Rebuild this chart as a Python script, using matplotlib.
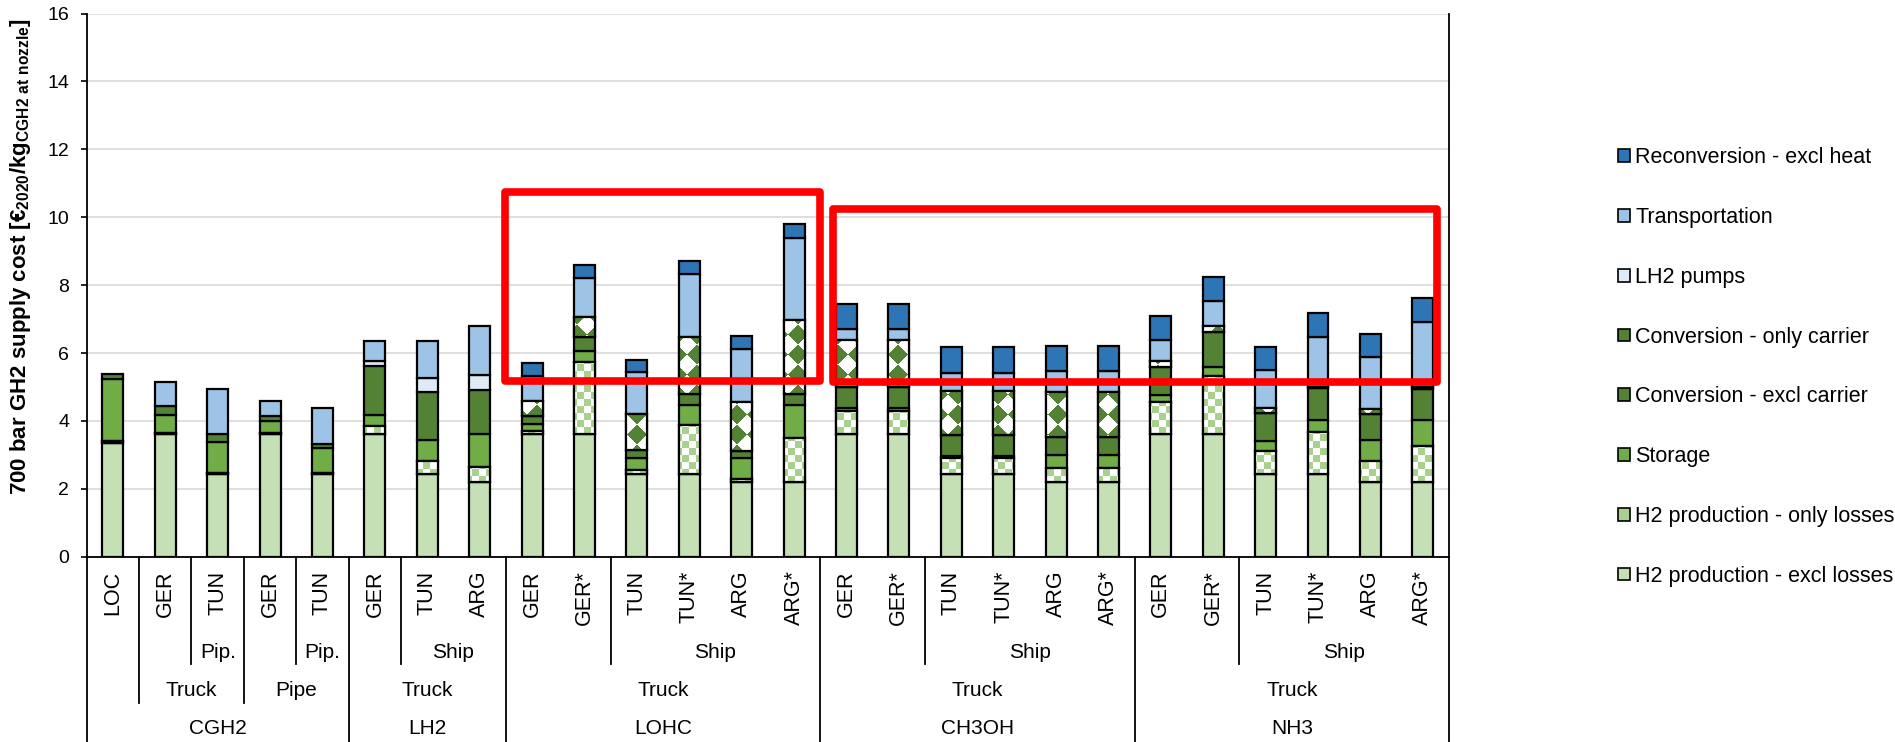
#!/usr/bin/env python

# 700 bar GH2 supply cost per carrier and route

# Some configuration
DPI   = 100
FIGW  = 18.95
FIGH  = 7.42
BAR_W = 0.4

# Import external libraries
import numpy as np
import matplotlib
matplotlib.use('Agg')
import matplotlib.pyplot as plt
from matplotlib.colors import to_rgb
from matplotlib.patches import Patch, Rectangle
from matplotlib.path import Path

plt.rcParams['font.family'] = ['Liberation Sans', 'DejaVu Sans']
plt.rcParams['mathtext.fontset'] = 'custom'
plt.rcParams['mathtext.rm'] = 'Liberation Sans'
plt.rcParams['mathtext.bf'] = 'Liberation Sans:bold'


# Category levels (one entry per bar)
bar_labels = ['LOC', 'GER', 'TUN', 'GER', 'TUN',
              'GER', 'TUN', 'ARG',
              'GER', 'GER*', 'TUN', 'TUN*', 'ARG', 'ARG*',
              'GER', 'GER*', 'TUN', 'TUN*', 'ARG', 'ARG*',
              'GER', 'GER*', 'TUN', 'TUN*', 'ARG', 'ARG*']
route_labels = ['', '', 'Pip.', '', 'Pip.',
                '', 'Ship', 'Ship',
                '', '', 'Ship', 'Ship', 'Ship', 'Ship',
                '', '', 'Ship', 'Ship', 'Ship', 'Ship',
                '', '', 'Ship', 'Ship', 'Ship', 'Ship']
mode_labels = ['', 'Truck', 'Truck', 'Pipe', 'Pipe'] + ['Truck'] * 21
carrier_labels = ['CGH2'] * 5 + ['LH2'] * 3 + ['LOHC'] * 6 + ['CH3OH'] * 6 + ['NH3'] * 6

# Cost components [EUR2020/kg], bottom to top
h2_excl_losses = [3.36, 3.60, 2.45, 3.60, 2.45, 3.60, 2.45, 2.20,
                  3.60, 3.60, 2.44, 2.44, 2.20, 2.20,
                  3.60, 3.60, 2.44, 2.44, 2.20, 2.20,
                  3.60, 3.60, 2.44, 2.44, 2.20, 2.20]
h2_only_losses = [0.05, 0.05, 0.03, 0.04, 0.03, 0.24, 0.37, 0.44,
                  0.10, 2.13, 0.10, 1.44, 0.09, 1.30,
                  0.70, 0.70, 0.47, 0.47, 0.42, 0.42,
                  0.95, 1.73, 0.67, 1.23, 0.61, 1.07]
storage        = [1.81, 0.51, 0.90, 0.35, 0.73, 0.32, 0.63, 0.96,
                  0.20, 0.34, 0.37, 0.60, 0.62, 0.98,
                  0.08, 0.08, 0.07, 0.07, 0.39, 0.39,
                  0.20, 0.25, 0.31, 0.36, 0.63, 0.76]
conv_excl      = [0.15, 0.28, 0.24, 0.15, 0.10, 1.45, 1.39, 1.32,
                  0.24, 0.39, 0.22, 0.31, 0.20, 0.31,
                  0.63, 0.63, 0.59, 0.59, 0.53, 0.53,
                  0.85, 1.03, 0.81, 0.94, 0.77, 0.91]
conv_only      = [0, 0, 0, 0, 0, 0, 0, 0,
                  0.44, 0.61, 1.08, 1.67, 1.44, 2.18,
                  1.37, 1.37, 1.32, 1.32, 1.32, 1.32,
                  0.17, 0.19, 0.14, 0.03, 0.14, 0.05]
lh2_pumps      = [0, 0, 0, 0, 0, 0.16, 0.41, 0.44,
                  0, 0, 0, 0, 0, 0,
                  0, 0, 0, 0, 0, 0,
                  0, 0, 0, 0, 0, 0]
transport      = [0, 0.70, 1.32, 0.46, 1.08, 0.57, 1.09, 1.44,
                  0.75, 1.14, 1.22, 1.88, 1.57, 2.43,
                  0.32, 0.32, 0.51, 0.51, 0.62, 0.62,
                  0.61, 0.72, 1.13, 1.46, 1.52, 1.91]
reconversion   = [0, 0, 0, 0, 0, 0, 0, 0,
                  0.37, 0.38, 0.36, 0.38, 0.37, 0.39,
                  0.74, 0.74, 0.77, 0.77, 0.74, 0.74,
                  0.72, 0.71, 0.69, 0.71, 0.69, 0.71]

series_names = ['H2 production - excl losses', 'H2 production - only losses',
                'Storage', 'Conversion - excl carrier', 'Conversion - only carrier',
                'LH2 pumps', 'Transportation', 'Reconversion - excl heat']
series_values = [h2_excl_losses, h2_only_losses, storage, conv_excl,
                 conv_only, lh2_pumps, transport, reconversion]
series_colors = ['#C5E0B4', '#A9D18E', '#70AD47', '#548235',
                 '#548235', '#DEEBF7', '#9DC3E6', '#2E75B6']
series_pattern = [None, 'checker', None, None, 'diamond', None, None, None]

# Highlight boxes (x from, x to, y from, y to) in bar/value units
highlight_boxes = [(7.48, 13.50, 5.18, 10.75),
                   (13.75, 25.27, 5.15, 10.23)]





# Build a pattern texture in axes pixels
def getTexture(kind, h, w):
    yy, xx = np.indices((h, w))
    tex = np.ones((h, w, 3))
    if kind == 'checker':
        mask = (xx // 7 + yy // 7) % 2 == 0
        tex[mask] = to_rgb('#A9D18E')
    else:
        u = xx + yy
        v = xx - yy
        mask = (u // 20 + v // 20) % 2 == 0
        tex[mask] = to_rgb('#548235')
    return tex





# Multi level category axis below the plot
def drawCategoryAxis(ax, levels, rows, depths):
    n = len(levels[0])

    # Rotated bar labels
    for i, lab in enumerate(levels[0]):
        ax.text(i, rows[0], lab, rotation=90, ha='center', va='top',
                fontsize=15.5, clip_on=False)

    # Group labels
    for lev in range(1, len(levels)):
        keys = [tuple(levels[k][i] for k in range(lev, len(levels))) for i in range(n)]
        start = 0
        for i in range(1, n + 1):
            if i == n or keys[i] != keys[i-1]:
                lab = levels[lev][start]
                if lab:
                    ax.text((start + i - 1) / 2, rows[lev], lab, ha='center',
                            va='center', fontsize=15, clip_on=False)
                start = i

    # Separator depth = highest level that changes
    for i in range(1, n):
        depth = None
        for lev in range(1, len(levels)):
            if any(levels[k][i] != levels[k][i-1] for k in range(lev, len(levels))):
                depth = depths[lev]
        if depth is not None:
            ax.plot([i - 0.5, i - 0.5], [0, depth], color='black', lw=1.3,
                    clip_on=False, zorder=3)
    for xb in [-0.5, n - 0.5]:
        ax.plot([xb, xb], [0, depths[-1]], color='black', lw=1.3,
                clip_on=False, zorder=3)





# Main plot
def plotSupplyCost():

    # Open figure
    fig = plt.figure(figsize=(FIGW, FIGH), dpi=DPI)
    ax = fig.add_axes([86.7/1895, 1 - 556.7/742, 1362.3/1895, 543.2/742])

    n = len(bar_labels)
    x = np.arange(n)
    bottom = np.zeros(n)
    pattern_paths = {'checker': [], 'diamond': []}
    pattern_rects = []

    # Stacked bars
    for vals, color, pat in zip(series_values, series_colors, series_pattern):
        vals = np.array(vals, dtype=float)
        idx = vals > 0
        bars = ax.bar(x[idx], vals[idx], BAR_W, bottom=bottom[idx],
                      color=color if pat is None else 'white',
                      edgecolor='black', linewidth=1.6, zorder=2)
        if pat is not None:
            for p in bars.patches:
                pattern_paths[pat].append(p.get_path().transformed(p.get_patch_transform()))
                pattern_rects.append(p)
        bottom += vals

    ax.set_xlim(-0.5, n - 0.5)
    ax.set_ylim(0, 16)

    # Pattern fills clipped to their bars
    bb = ax.get_window_extent()
    h, w = int(round(bb.height)), int(round(bb.width))
    for kind, paths in pattern_paths.items():
        im = ax.imshow(getTexture(kind, h, w), extent=(-0.5, n - 0.5, 0, 16),
                       aspect='auto', interpolation='nearest', zorder=2.1)
        im.set_clip_path(Path.make_compound_path(*paths), ax.transData)
    for p in pattern_rects:
        ax.add_patch(Rectangle(p.get_xy(), p.get_width(), p.get_height(),
                               fill=False, edgecolor='black', linewidth=1.6, zorder=2.2))
    ax.set_xlim(-0.5, n - 0.5)
    ax.set_ylim(0, 16)

    # Highlight boxes
    for x0, x1, y0, y1 in highlight_boxes:
        ax.add_patch(Rectangle((x0, y0), x1 - x0, y1 - y0, fill=False,
                               edgecolor='#FF0000', linewidth=5.5,
                               joinstyle='round', clip_on=False, zorder=5))

    # Arrange plot
    ax.set_xticks([])
    ax.set_yticks(range(0, 17, 2))
    ax.tick_params(axis='y', direction='out', length=4.5, width=1.2,
                   labelsize=14, pad=8)
    ax.yaxis.grid(True, color='#D9D9D9', linewidth=1.2)
    ax.set_axisbelow(True)
    ax.spines['top'].set_visible(False)
    for s in ['left', 'bottom', 'right']:
        ax.spines[s].set_linewidth(1.3)

    drawCategoryAxis(ax, [bar_labels, route_labels, mode_labels, carrier_labels],
                     rows=[-0.41, -2.81, -3.93, -5.05],
                     depths=[0, -3.16, -4.30, -5.6])

    fig.text(21/1895, 1 - 256/742,
             '700 bar GH2 supply cost [€$_{\\mathbf{2020}}$/kg$_{\\mathbf{CGH2\\ at\\ nozzle}}$]',
             rotation=90, ha='center', va='center', fontsize=16, fontweight='bold')

    # Legend, top entry = top of stack
    handles = [Patch(facecolor=c, edgecolor='black', linewidth=1.2)
               for c in series_colors[::-1]]
    fig.legend(handles, series_names[::-1], loc='center left',
               bbox_to_anchor=(1618/1895, 1 - 367/742), frameon=False,
               fontsize=15.5, handlelength=0.55, handleheight=0.55,
               handletextpad=0.25, labelspacing=1.8, borderpad=0,
               borderaxespad=0)

    fig.savefig('out.png', dpi=DPI)


#---------------------------------------------
# MAIN PROCESSING
#---------------------------------------------
plotSupplyCost()
